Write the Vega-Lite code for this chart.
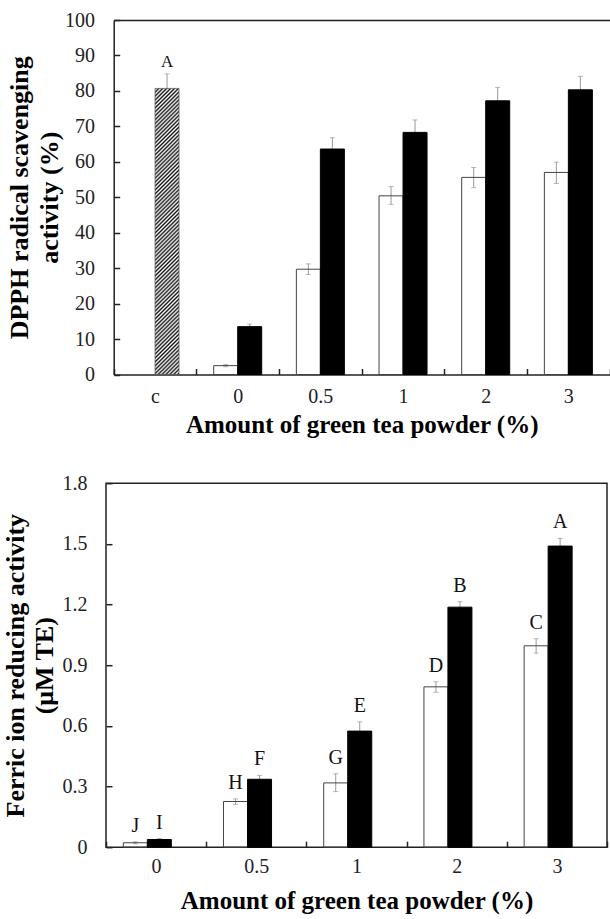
{
  "$schema": "https://vega.github.io/schema/vega-lite/v6.json",
  "padding": {"left": 1, "top": 10, "right": 0, "bottom": 0},
  "background": "white",
  "config": {
    "font": "Liberation Serif",
    "text": {"font": "Liberation Serif"},
    "view": {"stroke": "#222", "strokeWidth": 1.5},
    "axis": {"labelColor": "#222", "tickColor": "#222", "domainColor": "#222", "titleColor": "#000", "tickWidth": 1.5, "domainWidth": 1.5, "grid": false, "labelFontSize": 20, "labelFont": "Liberation Serif", "titleFont": "Liberation Serif", "labelOverlap": false},
    "axisX": {"labelAngle": 0}
  },
  "spacing": 35.2,
  "vconcat": [
    {
      "width": 503.7,
      "height": 354.5,
      "view": {"stroke": null},
      "data": {"values": [
        {"amount": "c", "group": "control", "value": 80.7, "lo": 76.6, "hi": 84.8, "letter": "A"},
        {"amount": "0", "group": "S1", "value": 2.5, "lo": 2.2, "hi": 2.8},
        {"amount": "0", "group": "S2", "value": 13.5, "lo": 12.8, "hi": 14.2},
        {"amount": "0.5", "group": "S1", "value": 29.7, "lo": 28.2, "hi": 31.2},
        {"amount": "0.5", "group": "S2", "value": 63.6, "lo": 60.4, "hi": 66.8},
        {"amount": "1", "group": "S1", "value": 50.4, "lo": 48.0, "hi": 53.0},
        {"amount": "1", "group": "S2", "value": 68.3, "lo": 64.8, "hi": 71.8},
        {"amount": "2", "group": "S1", "value": 55.6, "lo": 52.7, "hi": 58.4},
        {"amount": "2", "group": "S2", "value": 77.2, "lo": 73.4, "hi": 81.0},
        {"amount": "3", "group": "S1", "value": 57.0, "lo": 53.9, "hi": 59.9},
        {"amount": "3", "group": "S2", "value": 80.3, "lo": 76.5, "hi": 84.1}
      ]},
      "resolve": {"axis": {"x": "independent"}},
      "layer": [
        {
          "transform": [{"filter": "datum.group !== 'control'"}],
          "mark": {"type": "rule", "color": "#999", "strokeWidth": 1},
          "encoding": {
            "x": {"field": "amount", "type": "nominal", "sort": null,
              "scale": {"domain": ["c", "0", "0.5", "1", "2", "3"], "range": [7.7, 503.7], "paddingInner": 0, "paddingOuter": 0},
              "axis": {"orient": "bottom", "title": "Amount of green tea powder (%)", "titleFontSize": 25, "titleFontWeight": "bold", "titleFont": "Liberation Serif", "labelFont": "Liberation Serif", "titlePadding": 6, "tickBand": "extent", "tickSize": -6, "labelPadding": 17.5, "domain": true}},
            "xOffset": {"field": "group", "type": "nominal", "scale": {"domain": ["S1", "S2"], "paddingInner": 0, "paddingOuter": 0.722}},
            "y": {"field": "lo", "type": "quantitative", "scale": {"domain": [0, 100], "nice": false},
              "axis": {"orient": "left", "offset": -7.7, "values": [0, 10, 20, 30, 40, 50, 60, 70, 80, 90, 100], "format": "d", "tickSize": -6, "labelPadding": 25.3, "labelFont": "Liberation Serif", "titleFont": "Liberation Serif", "title": ["DPPH radical scavenging", "activity (%)"], "titleFontSize": 26, "titleFontWeight": "bold", "titleLineHeight": 30, "titlePadding": 2, "domain": true}},
            "y2": {"field": "hi"}
          }
        },
        {
          "transform": [{"filter": "datum.group !== 'control'"}],
          "mark": {"type": "tick", "orient": "horizontal", "color": "#999", "size": 5, "thickness": 1},
          "encoding": {
            "x": {"field": "amount", "type": "nominal", "sort": null, "axis": null},
            "xOffset": {"field": "group", "type": "nominal"},
            "y": {"field": "hi", "type": "quantitative",
              "axis": {"orient": "left", "offset": -7.7, "values": [0, 10, 20, 30, 40, 50, 60, 70, 80, 90, 100], "format": "d", "tickSize": -6, "labelPadding": 25.3, "labelFont": "Liberation Serif", "titleFont": "Liberation Serif", "title": ["DPPH radical scavenging", "activity (%)"], "titleFontSize": 26, "titleFontWeight": "bold", "titleLineHeight": 30, "titlePadding": 2, "domain": true}}
          }
        },
        {
          "transform": [{"filter": "datum.group !== 'control'"}],
          "mark": {"type": "tick", "orient": "horizontal", "color": "#999", "size": 5, "thickness": 1},
          "encoding": {
            "x": {"field": "amount", "type": "nominal", "sort": null, "axis": null},
            "xOffset": {"field": "group", "type": "nominal"},
            "y": {"field": "lo", "type": "quantitative",
              "axis": {"orient": "left", "offset": -7.7, "values": [0, 10, 20, 30, 40, 50, 60, 70, 80, 90, 100], "format": "d", "tickSize": -6, "labelPadding": 25.3, "labelFont": "Liberation Serif", "titleFont": "Liberation Serif", "title": ["DPPH radical scavenging", "activity (%)"], "titleFontSize": 26, "titleFontWeight": "bold", "titleLineHeight": 30, "titlePadding": 2, "domain": true}}
          }
        },
        {
          "transform": [{"filter": "datum.group !== 'control'"}],
          "mark": {"type": "bar", "strokeWidth": 1},
          "encoding": {
            "x": {"field": "amount", "type": "nominal", "sort": null, "axis": null},
            "xOffset": {"field": "group", "type": "nominal"},
            "y": {"field": "value", "type": "quantitative",
              "axis": {"orient": "left", "offset": -7.7, "values": [0, 10, 20, 30, 40, 50, 60, 70, 80, 90, 100], "format": "d", "tickSize": -6, "labelPadding": 25.3, "labelFont": "Liberation Serif", "titleFont": "Liberation Serif", "title": ["DPPH radical scavenging", "activity (%)"], "titleFontSize": 26, "titleFontWeight": "bold", "titleLineHeight": 30, "titlePadding": 2, "domain": true}},
            "fill": {"field": "group", "type": "nominal", "scale": {"domain": ["S1", "S2"], "range": ["transparent", "#000"]}, "legend": null},
            "stroke": {"field": "group", "type": "nominal", "scale": {"domain": ["S1", "S2"], "range": ["#444", "#000"]}, "legend": null}
          }
        },
        {
          "transform": [{"filter": "datum.group === 'control'"}],
          "mark": {"type": "rule", "color": "#999", "strokeWidth": 1},
          "encoding": {
            "x": {"field": "amount", "type": "nominal", "sort": null, "axis": null},
            "xOffset": {"datum": "S2"},
            "y": {"field": "lo", "type": "quantitative",
              "axis": {"orient": "left", "offset": -7.7, "values": [0, 10, 20, 30, 40, 50, 60, 70, 80, 90, 100], "format": "d", "tickSize": -6, "labelPadding": 25.3, "labelFont": "Liberation Serif", "titleFont": "Liberation Serif", "title": ["DPPH radical scavenging", "activity (%)"], "titleFontSize": 26, "titleFontWeight": "bold", "titleLineHeight": 30, "titlePadding": 2, "domain": true}},
            "y2": {"field": "hi"}
          }
        },
        {
          "transform": [{"filter": "datum.group === 'control'"}],
          "mark": {"type": "tick", "orient": "horizontal", "color": "#999", "size": 5, "thickness": 1},
          "encoding": {
            "x": {"field": "amount", "type": "nominal", "sort": null, "axis": null},
            "xOffset": {"datum": "S2"},
            "y": {"field": "hi", "type": "quantitative",
              "axis": {"orient": "left", "offset": -7.7, "values": [0, 10, 20, 30, 40, 50, 60, 70, 80, 90, 100], "format": "d", "tickSize": -6, "labelPadding": 25.3, "labelFont": "Liberation Serif", "titleFont": "Liberation Serif", "title": ["DPPH radical scavenging", "activity (%)"], "titleFontSize": 26, "titleFontWeight": "bold", "titleLineHeight": 30, "titlePadding": 2, "domain": true}}
          }
        },
        {
          "transform": [{"filter": "datum.group === 'control'"}],
          "mark": {"type": "bar", "stroke": "#555", "strokeWidth": 0.7,
            "fill": {"gradient": "linear", "x1": 0, "y1": 0, "x2": 0.091, "y2": 1.085, "stops": [
              {"offset": 0, "color": "#111"}, {"offset": 0.00625, "color": "#fff"}, {"offset": 0.0125, "color": "#111"}, {"offset": 0.01875, "color": "#fff"}, {"offset": 0.025, "color": "#111"}, {"offset": 0.03125, "color": "#fff"}, {"offset": 0.0375, "color": "#111"}, {"offset": 0.04375, "color": "#fff"},
              {"offset": 0.05, "color": "#111"}, {"offset": 0.05625, "color": "#fff"}, {"offset": 0.0625, "color": "#111"}, {"offset": 0.06875, "color": "#fff"}, {"offset": 0.075, "color": "#111"}, {"offset": 0.08125, "color": "#fff"}, {"offset": 0.0875, "color": "#111"}, {"offset": 0.09375, "color": "#fff"},
              {"offset": 0.1, "color": "#111"}, {"offset": 0.10625, "color": "#fff"}, {"offset": 0.1125, "color": "#111"}, {"offset": 0.11875, "color": "#fff"}, {"offset": 0.125, "color": "#111"}, {"offset": 0.13125, "color": "#fff"}, {"offset": 0.1375, "color": "#111"}, {"offset": 0.14375, "color": "#fff"},
              {"offset": 0.15, "color": "#111"}, {"offset": 0.15625, "color": "#fff"}, {"offset": 0.1625, "color": "#111"}, {"offset": 0.16875, "color": "#fff"}, {"offset": 0.175, "color": "#111"}, {"offset": 0.18125, "color": "#fff"}, {"offset": 0.1875, "color": "#111"}, {"offset": 0.19375, "color": "#fff"},
              {"offset": 0.2, "color": "#111"}, {"offset": 0.20625, "color": "#fff"}, {"offset": 0.2125, "color": "#111"}, {"offset": 0.21875, "color": "#fff"}, {"offset": 0.225, "color": "#111"}, {"offset": 0.23125, "color": "#fff"}, {"offset": 0.2375, "color": "#111"}, {"offset": 0.24375, "color": "#fff"},
              {"offset": 0.25, "color": "#111"}, {"offset": 0.25625, "color": "#fff"}, {"offset": 0.2625, "color": "#111"}, {"offset": 0.26875, "color": "#fff"}, {"offset": 0.275, "color": "#111"}, {"offset": 0.28125, "color": "#fff"}, {"offset": 0.2875, "color": "#111"}, {"offset": 0.29375, "color": "#fff"},
              {"offset": 0.3, "color": "#111"}, {"offset": 0.30625, "color": "#fff"}, {"offset": 0.3125, "color": "#111"}, {"offset": 0.31875, "color": "#fff"}, {"offset": 0.325, "color": "#111"}, {"offset": 0.33125, "color": "#fff"}, {"offset": 0.3375, "color": "#111"}, {"offset": 0.34375, "color": "#fff"},
              {"offset": 0.35, "color": "#111"}, {"offset": 0.35625, "color": "#fff"}, {"offset": 0.3625, "color": "#111"}, {"offset": 0.36875, "color": "#fff"}, {"offset": 0.375, "color": "#111"}, {"offset": 0.38125, "color": "#fff"}, {"offset": 0.3875, "color": "#111"}, {"offset": 0.39375, "color": "#fff"},
              {"offset": 0.4, "color": "#111"}, {"offset": 0.40625, "color": "#fff"}, {"offset": 0.4125, "color": "#111"}, {"offset": 0.41875, "color": "#fff"}, {"offset": 0.425, "color": "#111"}, {"offset": 0.43125, "color": "#fff"}, {"offset": 0.4375, "color": "#111"}, {"offset": 0.44375, "color": "#fff"},
              {"offset": 0.45, "color": "#111"}, {"offset": 0.45625, "color": "#fff"}, {"offset": 0.4625, "color": "#111"}, {"offset": 0.46875, "color": "#fff"}, {"offset": 0.475, "color": "#111"}, {"offset": 0.48125, "color": "#fff"}, {"offset": 0.4875, "color": "#111"}, {"offset": 0.49375, "color": "#fff"},
              {"offset": 0.5, "color": "#111"}, {"offset": 0.50625, "color": "#fff"}, {"offset": 0.5125, "color": "#111"}, {"offset": 0.51875, "color": "#fff"}, {"offset": 0.525, "color": "#111"}, {"offset": 0.53125, "color": "#fff"}, {"offset": 0.5375, "color": "#111"}, {"offset": 0.54375, "color": "#fff"},
              {"offset": 0.55, "color": "#111"}, {"offset": 0.55625, "color": "#fff"}, {"offset": 0.5625, "color": "#111"}, {"offset": 0.56875, "color": "#fff"}, {"offset": 0.575, "color": "#111"}, {"offset": 0.58125, "color": "#fff"}, {"offset": 0.5875, "color": "#111"}, {"offset": 0.59375, "color": "#fff"},
              {"offset": 0.6, "color": "#111"}, {"offset": 0.60625, "color": "#fff"}, {"offset": 0.6125, "color": "#111"}, {"offset": 0.61875, "color": "#fff"}, {"offset": 0.625, "color": "#111"}, {"offset": 0.63125, "color": "#fff"}, {"offset": 0.6375, "color": "#111"}, {"offset": 0.64375, "color": "#fff"},
              {"offset": 0.65, "color": "#111"}, {"offset": 0.65625, "color": "#fff"}, {"offset": 0.6625, "color": "#111"}, {"offset": 0.66875, "color": "#fff"}, {"offset": 0.675, "color": "#111"}, {"offset": 0.68125, "color": "#fff"}, {"offset": 0.6875, "color": "#111"}, {"offset": 0.69375, "color": "#fff"},
              {"offset": 0.7, "color": "#111"}, {"offset": 0.70625, "color": "#fff"}, {"offset": 0.7125, "color": "#111"}, {"offset": 0.71875, "color": "#fff"}, {"offset": 0.725, "color": "#111"}, {"offset": 0.73125, "color": "#fff"}, {"offset": 0.7375, "color": "#111"}, {"offset": 0.74375, "color": "#fff"},
              {"offset": 0.75, "color": "#111"}, {"offset": 0.75625, "color": "#fff"}, {"offset": 0.7625, "color": "#111"}, {"offset": 0.76875, "color": "#fff"}, {"offset": 0.775, "color": "#111"}, {"offset": 0.78125, "color": "#fff"}, {"offset": 0.7875, "color": "#111"}, {"offset": 0.79375, "color": "#fff"},
              {"offset": 0.8, "color": "#111"}, {"offset": 0.80625, "color": "#fff"}, {"offset": 0.8125, "color": "#111"}, {"offset": 0.81875, "color": "#fff"}, {"offset": 0.825, "color": "#111"}, {"offset": 0.83125, "color": "#fff"}, {"offset": 0.8375, "color": "#111"}, {"offset": 0.84375, "color": "#fff"},
              {"offset": 0.85, "color": "#111"}, {"offset": 0.85625, "color": "#fff"}, {"offset": 0.8625, "color": "#111"}, {"offset": 0.86875, "color": "#fff"}, {"offset": 0.875, "color": "#111"}, {"offset": 0.88125, "color": "#fff"}, {"offset": 0.8875, "color": "#111"}, {"offset": 0.89375, "color": "#fff"},
              {"offset": 0.9, "color": "#111"}, {"offset": 0.90625, "color": "#fff"}, {"offset": 0.9125, "color": "#111"}, {"offset": 0.91875, "color": "#fff"}, {"offset": 0.925, "color": "#111"}, {"offset": 0.93125, "color": "#fff"}, {"offset": 0.9375, "color": "#111"}, {"offset": 0.94375, "color": "#fff"},
              {"offset": 0.95, "color": "#111"}, {"offset": 0.95625, "color": "#fff"}, {"offset": 0.9625, "color": "#111"}, {"offset": 0.96875, "color": "#fff"}, {"offset": 0.975, "color": "#111"}, {"offset": 0.98125, "color": "#fff"}, {"offset": 0.9875, "color": "#111"}, {"offset": 0.99375, "color": "#fff"},
              {"offset": 1, "color": "#111"}
            ]}},
          "encoding": {
            "x": {"field": "amount", "type": "nominal", "sort": null,
              "axis": {"orient": "top", "labels": false, "ticks": false, "domain": true, "title": null}},
            "xOffset": {"datum": "S2"},
            "y": {"field": "value", "type": "quantitative",
              "axis": {"orient": "left", "offset": -7.7, "values": [0, 10, 20, 30, 40, 50, 60, 70, 80, 90, 100], "format": "d", "tickSize": -6, "labelPadding": 25.3, "labelFont": "Liberation Serif", "titleFont": "Liberation Serif", "title": ["DPPH radical scavenging", "activity (%)"], "titleFontSize": 26, "titleFontWeight": "bold", "titleLineHeight": 30, "titlePadding": 2, "domain": true}}
          }
        },
        {
          "transform": [{"filter": "datum.group === 'control'"}],
          "mark": {"type": "text", "fontSize": 17, "baseline": "middle", "dy": -12, "color": "#111", "font": "Liberation Serif"},
          "encoding": {
            "x": {"field": "amount", "type": "nominal", "sort": null, "axis": null},
            "xOffset": {"datum": "S2"},
            "y": {"field": "hi", "type": "quantitative",
              "axis": {"orient": "left", "offset": -7.7, "values": [0, 10, 20, 30, 40, 50, 60, 70, 80, 90, 100], "format": "d", "tickSize": -6, "labelPadding": 25.3, "labelFont": "Liberation Serif", "titleFont": "Liberation Serif", "title": ["DPPH radical scavenging", "activity (%)"], "titleFontSize": 26, "titleFontWeight": "bold", "titleLineHeight": 30, "titlePadding": 2, "domain": true}},
            "text": {"field": "letter"}
          }
        }
      ]
    },
    {
      "width": 501,
      "height": 364,
      "data": {"values": [
        {"amount": "0", "group": "S1", "value": 0.022, "lo": 0.017, "hi": 0.027, "letter": "J"},
        {"amount": "0", "group": "S2", "value": 0.038, "lo": 0.033, "hi": 0.043, "letter": "I"},
        {"amount": "0.5", "group": "S1", "value": 0.226, "lo": 0.212, "hi": 0.239, "letter": "H"},
        {"amount": "0.5", "group": "S2", "value": 0.336, "lo": 0.318, "hi": 0.355, "letter": "F"},
        {"amount": "1", "group": "S1", "value": 0.318, "lo": 0.275, "hi": 0.363, "letter": "G"},
        {"amount": "1", "group": "S2", "value": 0.574, "lo": 0.528, "hi": 0.62, "letter": "E"},
        {"amount": "2", "group": "S1", "value": 0.793, "lo": 0.766, "hi": 0.818, "letter": "D"},
        {"amount": "2", "group": "S2", "value": 1.187, "lo": 1.16, "hi": 1.214, "letter": "B"},
        {"amount": "3", "group": "S1", "value": 0.996, "lo": 0.96, "hi": 1.031, "letter": "C"},
        {"amount": "3", "group": "S2", "value": 1.489, "lo": 1.451, "hi": 1.527, "letter": "A"}
      ]},
      "layer": [
        {
          "mark": {"type": "rule", "color": "#999", "strokeWidth": 1},
          "encoding": {
            "x": {"field": "amount", "type": "nominal", "sort": null,
              "scale": {"domain": ["0", "0.5", "1", "2", "3"], "paddingInner": 0, "paddingOuter": 0},
              "axis": {"orient": "bottom", "title": "Amount of green tea powder (%)", "titleFontSize": 25, "titleFontWeight": "bold", "titleFont": "Liberation Serif", "labelFont": "Liberation Serif", "titlePadding": 12, "tickBand": "extent", "tickSize": -6, "labelPadding": 15.5, "domain": false}},
            "xOffset": {"field": "group", "type": "nominal", "scale": {"domain": ["S1", "S2"], "paddingInner": 0, "paddingOuter": 0.758}},
            "y": {"field": "lo", "type": "quantitative", "scale": {"domain": [0, 1.8], "nice": false},
              "axis": {"orient": "left", "values": [0, 0.3, 0.6, 0.9, 1.2, 1.5, 1.8], "format": ".1~f", "tickSize": -6, "labelPadding": 25, "labelFont": "Liberation Serif", "titleFont": "Liberation Serif", "domain": false, "title": ["Ferric ion reducing activity", "(μM TE)"], "titleFontSize": 26, "titleFontWeight": "bold", "titleLineHeight": 29, "titlePadding": 4.8}},
            "y2": {"field": "hi"}
          }
        },
        {
          "mark": {"type": "tick", "orient": "horizontal", "color": "#999", "size": 5, "thickness": 1},
          "encoding": {
            "x": {"field": "amount", "type": "nominal", "sort": null},
            "xOffset": {"field": "group", "type": "nominal"},
            "y": {"field": "hi", "type": "quantitative"}
          }
        },
        {
          "mark": {"type": "tick", "orient": "horizontal", "color": "#999", "size": 5, "thickness": 1},
          "encoding": {
            "x": {"field": "amount", "type": "nominal", "sort": null},
            "xOffset": {"field": "group", "type": "nominal"},
            "y": {"field": "lo", "type": "quantitative"}
          }
        },
        {
          "mark": {"type": "bar", "strokeWidth": 1},
          "encoding": {
            "x": {"field": "amount", "type": "nominal", "sort": null},
            "xOffset": {"field": "group", "type": "nominal"},
            "y": {"field": "value", "type": "quantitative"},
            "fill": {"field": "group", "type": "nominal", "scale": {"domain": ["S1", "S2"], "range": ["transparent", "#000"]}, "legend": null},
            "stroke": {"field": "group", "type": "nominal", "scale": {"domain": ["S1", "S2"], "range": ["#444", "#000"]}, "legend": null}
          }
        },
        {
          "mark": {"type": "text", "fontSize": 20, "baseline": "middle", "dy": -16, "color": "#111", "font": "Liberation Serif"},
          "encoding": {
            "x": {"field": "amount", "type": "nominal", "sort": null},
            "xOffset": {"field": "group", "type": "nominal"},
            "y": {"field": "hi", "type": "quantitative"},
            "text": {"field": "letter"}
          }
        }
      ]
    }
  ]
}
